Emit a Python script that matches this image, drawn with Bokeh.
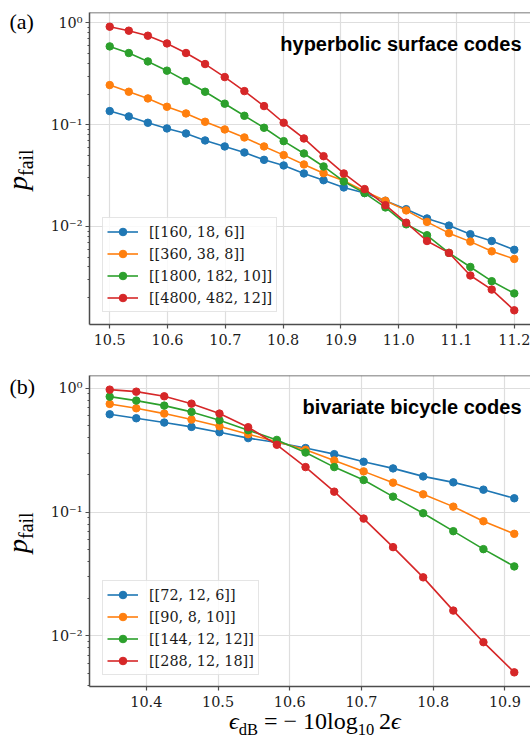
import math
from bokeh.plotting import figure
from bokeh.layouts import column, row
from bokeh.models import (Legend, LegendItem, Label, Span, Range1d, Div,
                          SingleIntervalTicker, LogTicker, CustomJSTickFormatter,
                          PrintfTickFormatter)
from bokeh.embed import file_html
from bokeh.resources import INLINE

# ---------------- data ----------------
colors = ["#1f77b4", "#ff7f0e", "#2ca02c", "#d62728"]

# (a) hyperbolic surface codes
eps_db_a = [10.500, 10.533, 10.566, 10.599, 10.632, 10.665, 10.699, 10.733, 10.767,
            10.801, 10.836, 10.870, 10.905, 10.941, 10.977, 11.013, 11.049, 11.087,
            11.124, 11.161, 11.200]
labels_a = ["[[160, 18, 6]]", "[[360, 38, 8]]", "[[1800, 182, 10]]", "[[4800, 482, 12]]"]
pfail_a_160 = [0.1362, 0.1207, 0.1046, 0.0920, 0.0821, 0.0701, 0.0612, 0.0534, 0.0452,
               0.0398, 0.0332, 0.0285, 0.0242, 0.0213, 0.0179, 0.0148, 0.0120, 0.0102,
               0.0084, 0.0072, 0.0059]
pfail_a_360 = [0.2454, 0.2110, 0.1814, 0.1502, 0.1292, 0.1070, 0.0899, 0.0750, 0.0612,
               0.0503, 0.0407, 0.0334, 0.0281, 0.0222, 0.0179, 0.0144, 0.0111, 0.0086,
               0.0071, 0.0057, 0.0048]
pfail_a_1800 = [0.589, 0.507, 0.419, 0.340, 0.269, 0.211, 0.161, 0.1225, 0.0934,
                0.0690, 0.0522, 0.0389, 0.0277, 0.0213, 0.0154, 0.0105, 0.0082, 0.0055,
                0.0040, 0.0029, 0.0022]
pfail_a_4800 = [0.920, 0.840, 0.750, 0.630, 0.507, 0.395, 0.294, 0.214, 0.1526,
                0.1046, 0.0733, 0.0491, 0.0332, 0.0233, 0.0162, 0.0109, 0.0072, 0.0055,
                0.0033, 0.0024, 0.0015]
series_a = [pfail_a_160, pfail_a_360, pfail_a_1800, pfail_a_4800]

# (b) bivariate bicycle codes
eps_db_b = [10.349, 10.386, 10.425, 10.463, 10.502, 10.542, 10.582, 10.622, 10.662,
            10.703, 10.744, 10.786, 10.828, 10.870, 10.913]
labels_b = ["[[72, 12, 6]]", "[[90, 8, 10]]", "[[144, 12, 12]]", "[[288, 12, 18]]"]
pfail_b_72 = [0.617, 0.573, 0.529, 0.488, 0.442, 0.396, 0.365, 0.329, 0.294, 0.255,
              0.2255, 0.1943, 0.1739, 0.1518, 0.1293]
pfail_b_90 = [0.748, 0.690, 0.625, 0.559, 0.494, 0.426, 0.370, 0.3187, 0.2615, 0.2133,
              0.1729, 0.1392, 0.1107, 0.0844, 0.0667]
pfail_b_144 = [0.857, 0.796, 0.725, 0.645, 0.552, 0.459, 0.383, 0.303, 0.231, 0.1816,
               0.1333, 0.0979, 0.0701, 0.0502, 0.0364]
pfail_b_288 = [0.976, 0.940, 0.862, 0.752, 0.625, 0.485, 0.350, 0.231, 0.1463, 0.0886,
               0.0521, 0.0297, 0.0160, 0.00889, 0.00507]
series_b = [pfail_b_72, pfail_b_90, pfail_b_144, pfail_b_288]

# ---------------- layout / styling constants ----------------
SIDE = 46          # width of the left text column (panel tag + y label)
FIG_W = 484        # figure width (frame runs to the right edge)
LEFT = 43          # room for y tick labels inside the figure
FRAME_W = FIG_W - LEFT
SPINE = "#4d4d4d"
GRID = "#dedede"
TICK_FONT = "DejaVu Serif"
MATH_FONT = "'Liberation Serif', 'DejaVu Serif', serif"

sup_formatter = CustomJSTickFormatter(code="""
const sup = {'0':'\u2070','1':'\u00b9','2':'\u00b2','3':'\u00b3','4':'\u2074',
             '5':'\u2075','6':'\u2076','7':'\u2077','8':'\u2078','9':'\u2079','-':'\u207b'};
const e = Math.round(Math.log10(tick));
return '10' + String(e).split('').map(c => sup[c]).join('');
""")


def ranges(xs, ys_list):
    lo = min(xs); hi = max(xs)
    pad = 0.05 * (hi - lo)
    x0 = lo - pad
    x1_full = hi + pad
    x1 = x0 + (x1_full - x0) * (FRAME_W / (FRAME_W + 4))
    allv = [v for ys in ys_list for v in ys]
    llo = math.log10(min(allv)); lhi = math.log10(max(allv))
    lp = 0.05 * (lhi - llo)
    return Range1d(x0, x1), Range1d(10 ** (llo - lp), 10 ** (lhi + lp))


def make_panel(xs, series, labels, height, top, bottom, title, legend_loc):
    xr, yr = ranges(xs, series)
    p = figure(width=FIG_W, height=height, x_range=xr, y_range=yr, y_axis_type="log",
               output_backend="svg", toolbar_location=None,
               min_border_left=LEFT, min_border_right=0,
               min_border_top=top, min_border_bottom=bottom)
    p.outline_line_color = None
    p.background_fill_color = "white"
    p.border_fill_color = "white"

    p.xaxis.ticker = SingleIntervalTicker(interval=0.1, num_minor_ticks=0)
    p.xaxis.formatter = PrintfTickFormatter(format="%.1f")
    p.yaxis.ticker = LogTicker(num_minor_ticks=10)
    p.yaxis.formatter = sup_formatter
    for ax in (p.xaxis[0], p.yaxis[0]):
        ax.axis_line_color = SPINE
        ax.axis_line_width = 1.5
        ax.major_tick_line_color = SPINE
        ax.major_tick_line_width = 1.2
        ax.major_tick_in = 0
        ax.major_tick_out = 4
        ax.major_label_text_font = TICK_FONT
        ax.major_label_text_font_size = "14.4px"
        ax.major_label_text_color = "#1a1a1a"
    p.xaxis.minor_tick_line_color = None
    p.xaxis.major_label_standoff = 5
    p.yaxis.major_label_standoff = 3
    p.yaxis.minor_tick_line_color = SPINE
    p.yaxis.minor_tick_line_width = 1
    p.yaxis.minor_tick_in = 0
    p.yaxis.minor_tick_out = 2

    p.xgrid.grid_line_color = GRID
    p.ygrid.grid_line_color = GRID
    p.xgrid.grid_line_width = 1.2
    p.ygrid.grid_line_width = 1.2

    # top spine
    p.add_layout(Span(location=yr.end, dimension="width", line_color=SPINE, line_width=1.5))

    items = []
    for ys, lab, col in zip(series, labels, colors):
        r1 = p.line(xs, ys, line_color=col, line_width=1.6)
        r2 = p.scatter(xs, ys, marker="circle", size=7.5, fill_color=col, line_color=col)
        items.append(LegendItem(label=lab, renderers=[r1, r2]))

    leg = Legend(items=items, location=legend_loc, margin=0,
                 label_text_font=TICK_FONT, label_text_font_size="14.4px",
                 label_text_color="#1a1a1a",
                 glyph_width=31, glyph_height=19, label_height=19,
                 spacing=3, padding=4, label_standoff=11,
                 border_line_color="#cccccc", border_line_width=1,
                 background_fill_color="white", background_fill_alpha=0.8)
    p.add_layout(leg)

    fh = height - top - bottom
    p.add_layout(Label(x=FRAME_W - 9, y=fh - 31, x_units="screen", y_units="screen",
                       text=title, text_align="right", text_baseline="alphabetic",
                       text_font="Liberation Sans", text_font_style="bold",
                       text_font_size="20px", text_color="black"))
    return p


def side_div(tag, tag_top, label_start, height):
    html = (
        f'<div style="position:relative;width:{SIDE}px;height:{height}px;color:#000;">'
        f'<div style="position:absolute;left:9.5px;top:{tag_top}px;white-space:nowrap;'
        f'font-family:{MATH_FONT};font-size:22px;line-height:22px;">{tag}</div>'
        f'<div style="position:absolute;left:4px;top:{label_start}px;white-space:nowrap;'
        f'transform:rotate(-90deg);transform-origin:0 0;'
        f'font-family:{MATH_FONT};font-size:28px;line-height:28px;">'
        f'<i>p</i><span style="font-size:20px;position:relative;top:6px;line-height:0;">fail</span>'
        f'</div></div>'
    )
    return Div(text=html, width=SIDE, height=height, margin=0,
               styles={"overflow": "visible"})


H1, H2, H3 = 364, 350, 27
pa = make_panel(eps_db_a, series_a, labels_a, H1, 12, 40,
                "hyperbolic surface codes", (13, 12))
pb = make_panel(eps_db_b, series_b, labels_b, H2, 11, 28,
                "bivariate bicycle codes", (13, 11))

side_a = side_div("(a)", 10.6, 190, H1)
side_b = side_div("(b)", 11.6, 188.5, H2)

xlabel_html = (
    f'<div style="position:relative;width:{SIDE + FIG_W}px;height:{H3}px;color:#000;">'
    f'<div style="position:absolute;left:229px;top:0.4px;white-space:nowrap;'
    f'font-family:{MATH_FONT};font-size:24px;line-height:14px;">'
    '<i>\u03f5</i><span style="font-size:16.5px;position:relative;top:5.5px;line-height:0;">dB</span>'
    ' = \u2212 10log'
    '<span style="font-size:16.5px;position:relative;top:5.5px;line-height:0;">10</span>'
    '\u2009'
    '2<i>\u03f5</i>'
    '</div></div>'
)
xlabel = Div(text=xlabel_html, width=SIDE + FIG_W, height=H3, margin=0,
             styles={"overflow": "visible"})

layout = column(row(side_a, pa, spacing=0), row(side_b, pb, spacing=0), xlabel, spacing=0)
open("out.html", "w").write(file_html(layout, INLINE))
